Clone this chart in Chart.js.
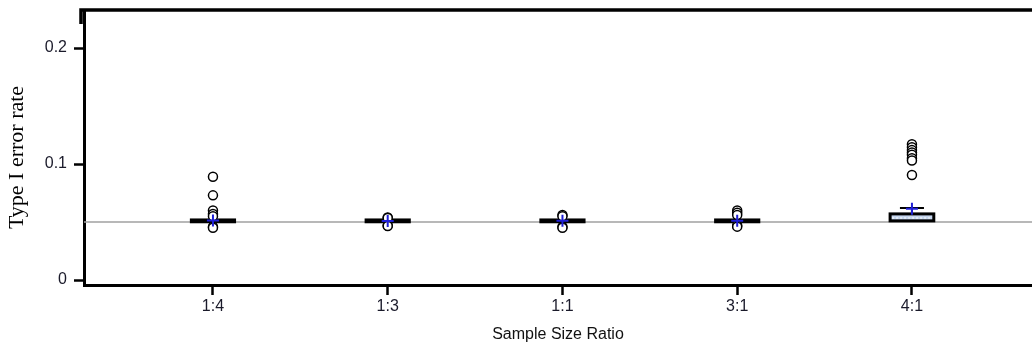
<!DOCTYPE html>
<html lang="en">
<head>
    <meta charset="UTF-8">
    <title>Type I error rate by sample size ratio</title>
    <style>
        html, body { margin: 0; padding: 0; background: #ffffff; overflow: hidden; }
        canvas { display: block; }
    </style>
</head>
<body>
    <canvas id="boxChart" width="1032" height="347"></canvas>
    <script src="https://cdn.jsdelivr.net/npm/chart.js@4.4.1/dist/chart.umd.min.js"></script>
    <script>
        // values
        var categories = ['1:4', '1:3', '1:1', '3:1', '4:1'];
        var q1 = [0.0500, 0.0500, 0.0500, 0.0500, 0.0510];
        var medians = [0.0510, 0.0510, 0.0510, 0.0510, 0.0535];
        var q3 = [0.0520, 0.0520, 0.0520, 0.0520, 0.0570];
        var whiskerLow = [0.0500, 0.0500, 0.0500, 0.0500, 0.0510];
        var whiskerHigh = [0.0520, 0.0520, 0.0520, 0.0520, 0.0620];
        var means = [0.0513, 0.0508, 0.0510, 0.0512, 0.0615];
        var outliers = [
            [0.089, 0.073, 0.060, 0.057, 0.055, 0.046, 0.045],
            [0.054, 0.0535, 0.047, 0.0465],
            [0.056, 0.055, 0.046, 0.045],
            [0.060, 0.058, 0.056, 0.047, 0.046],
            [0.117, 0.1145, 0.112, 0.110, 0.108, 0.105, 0.103, 0.0905]
        ];
        var nominalRate = 0.05;
        var yTicks = [0, 0.1, 0.2];
        var yTitle = 'Type I error rate';

        var outlierPoints = [];
        outliers.forEach(function(list, i) {
            list.forEach(function(v) { outlierPoints.push({x: i + 1, y: v}); });
        });
        var meanPoints = means.map(function(v, i) { return {x: i + 1, y: v}; });

        // boxes, whiskers and the nominal 0.05 line
        var boxPlugin = {
            id: 'boxes',
            beforeDatasetsDraw: function(chart) {
                var ctx = chart.ctx, xs = chart.scales.x, ys = chart.scales.y, area = chart.chartArea;
                ctx.save();
                ctx.strokeStyle = '#a0a0a0';
                ctx.lineWidth = 1.5;
                ctx.beginPath();
                ctx.moveTo(area.left, ys.getPixelForValue(nominalRate));
                ctx.lineTo(area.right, ys.getPixelForValue(nominalRate));
                ctx.stroke();

                var half = (xs.getPixelForValue(1.125) - xs.getPixelForValue(1));
                categories.forEach(function(c, i) {
                    var cx = xs.getPixelForValue(i + 1);
                    var top = ys.getPixelForValue(q3[i]);
                    var bot = ys.getPixelForValue(q1[i]);
                    var wide = (q3[i] - q1[i]) > 0.003;
                    // whiskers
                    ctx.strokeStyle = '#000';
                    ctx.lineWidth = 2;
                    var wh = ys.getPixelForValue(whiskerHigh[i]);
                    var wl = ys.getPixelForValue(whiskerLow[i]);
                    if (whiskerHigh[i] > q3[i]) {
                        ctx.beginPath();
                        ctx.moveTo(cx, top); ctx.lineTo(cx, wh);
                        ctx.moveTo(cx - half * 0.55, wh); ctx.lineTo(cx + half * 0.55, wh);
                        ctx.stroke();
                    }
                    if (whiskerLow[i] < q1[i]) {
                        ctx.beginPath();
                        ctx.moveTo(cx, bot); ctx.lineTo(cx, wl);
                        ctx.moveTo(cx - half * 0.55, wl); ctx.lineTo(cx + half * 0.55, wl);
                        ctx.stroke();
                    }
                    // box
                    ctx.fillStyle = wide ? '#c6d6ee' : '#000';
                    ctx.lineWidth = wide ? 3 : 2.5;
                    ctx.fillRect(cx - half, top, half * 2, bot - top);
                    ctx.strokeRect(cx - half, top, half * 2, bot - top);
                    if (wide) {
                        var my = ys.getPixelForValue(medians[i]);
                        ctx.strokeStyle = '#ffffff';
                        ctx.lineWidth = 1;
                        ctx.setLineDash([2, 2]);
                        ctx.beginPath();
                        ctx.moveTo(cx - half + 2, my); ctx.lineTo(cx + half - 2, my);
                        ctx.stroke();
                        ctx.setLineDash([]);
                    }
                });
                ctx.restore();
            },
            afterDraw: function(chart) {
                var ctx = chart.ctx, area = chart.chartArea;
                ctx.save();
                // heavy top frame line
                ctx.strokeStyle = '#000';
                ctx.lineWidth = 3.5;
                ctx.beginPath();
                ctx.moveTo(area.left - 3, area.top + 14);
                ctx.lineTo(area.left - 3, area.top);
                ctx.lineTo(area.right, area.top);
                ctx.stroke();
                // y axis title, sits a little below the axis middle in the original
                ctx.translate(17, (area.top + area.bottom) / 2 + 10);
                ctx.rotate(-Math.PI / 2);
                ctx.fillStyle = '#000';
                ctx.font = '22px "Liberation Serif"';
                ctx.textAlign = 'center';
                ctx.textBaseline = 'middle';
                ctx.fillText(yTitle, 0, 0);
                ctx.restore();
            }
        };

        var ctx = document.getElementById('boxChart').getContext('2d');
        var newChart = new Chart(ctx, {
            type: 'scatter',
            data: {
                datasets: [
                    {
                        label: 'mean',
                        data: meanPoints,
                        pointStyle: 'cross',
                        pointRadius: 6,
                        borderColor: '#1f1fd6',
                        borderWidth: 2,
                        order: 0
                    },
                    {
                        label: 'outliers',
                        data: outlierPoints,
                        pointStyle: 'circle',
                        pointRadius: 4.5,
                        backgroundColor: '#ffffff',
                        borderColor: '#000000',
                        borderWidth: 1.5,
                        order: 1
                    }
                ]
            },
            plugins: [boxPlugin],
            options: {
                responsive: false,
                animation: false,
                layout: { autoPadding: false, padding: { top: 10, right: 0, left: 0, bottom: 0 } },
                plugins: {
                    legend: { display: false },
                    tooltip: { enabled: false }
                },
                scales: {
                    x: {
                        type: 'linear',
                        min: 0.262,
                        max: 5.687,
                        afterBuildTicks: function(scale) {
                            scale.ticks = categories.map(function(c, i) { return {value: i + 1}; });
                        },
                        afterFit: function(scale) {
                            scale.height = 62;
                            scale.paddingLeft = 0;
                            scale.paddingRight = 0;
                        },
                        ticks: {
                            callback: function(v) { return categories[v - 1]; },
                            color: '#1a1a2a',
                            font: { family: 'Liberation Sans', size: 16 },
                            padding: 2,
                            maxRotation: 0,
                            autoSkip: false
                        },
                        grid: {
                            drawOnChartArea: false,
                            tickLength: 10,
                            tickWidth: 2.5,
                            tickColor: '#000'
                        },
                        border: { color: '#000', width: 3 },
                        title: {
                            display: true,
                            text: 'Sample Size Ratio',
                            color: '#111',
                            font: { family: 'Liberation Sans', size: 16 },
                            padding: { top: 2, bottom: 3 }
                        }
                    },
                    y: {
                        min: -0.0043,
                        max: 0.2328,
                        afterBuildTicks: function(scale) {
                            scale.ticks = yTicks.map(function(v) { return {value: v}; });
                        },
                        afterFit: function(scale) {
                            scale.width = 84;
                            scale.paddingTop = 0;
                            scale.paddingBottom = 0;
                        },
                        ticks: {
                            callback: function(v) { return v === 0 ? '0' : String(v); },
                            color: '#1a1a2a',
                            font: { family: 'Liberation Sans', size: 16 },
                            padding: 7
                        },
                        grid: {
                            drawOnChartArea: false,
                            tickLength: 10,
                            tickWidth: 2.5,
                            tickColor: '#000'
                        },
                        border: { color: '#000', width: 3 }
                    }
                }
            }
        });
    </script>
</body>
</html>
